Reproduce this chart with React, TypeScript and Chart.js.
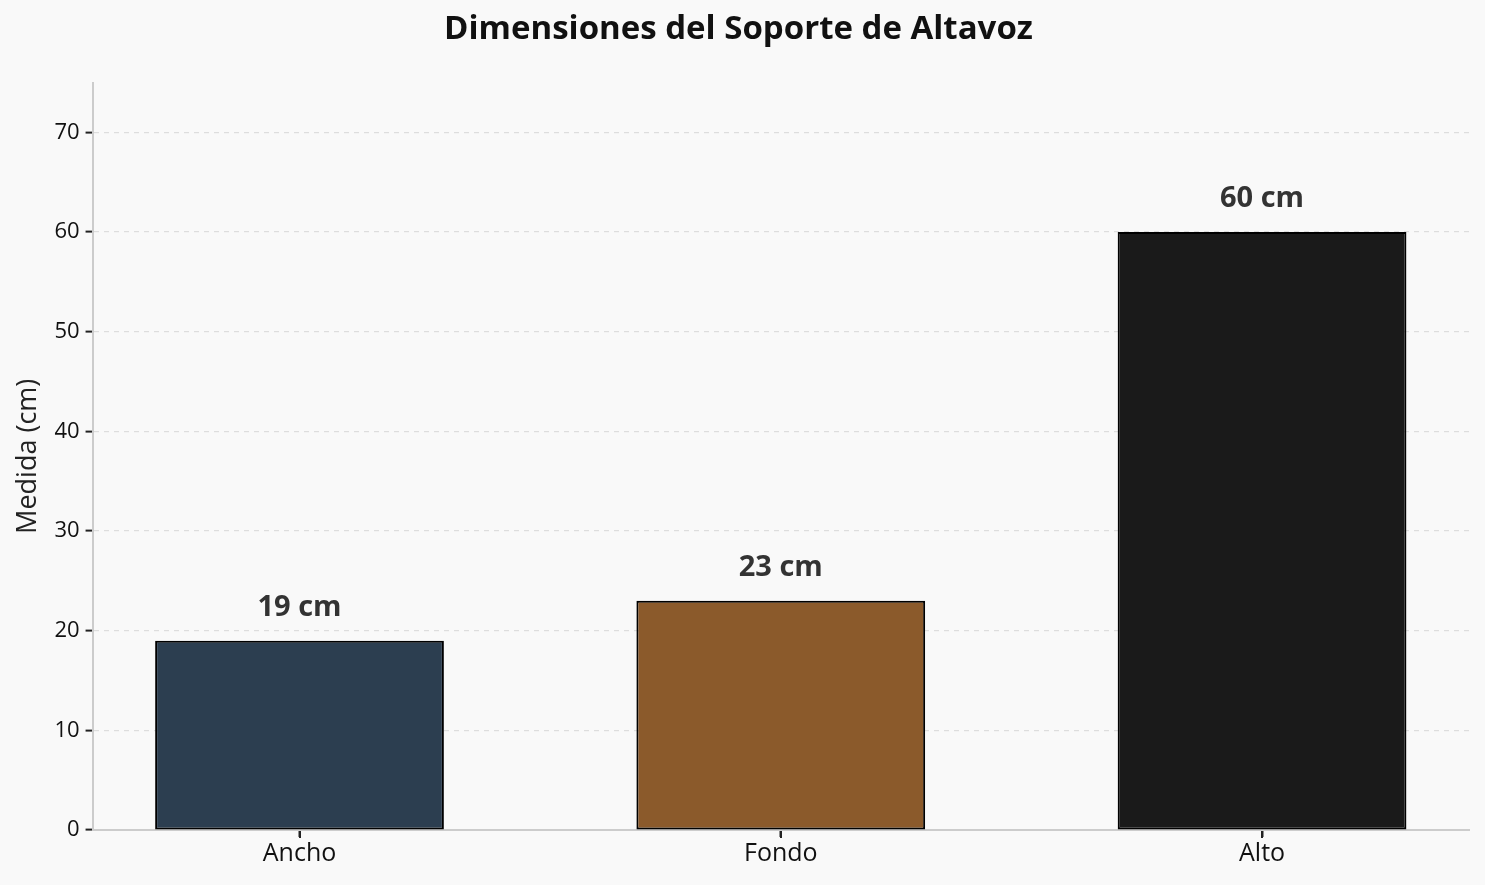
import { useEffect, useRef } from 'react';
import Chart from 'chart.js/auto';

const categories = ['Ancho', 'Fondo', 'Alto'];
const measures = [19, 23, 60];
const barColors = ['#2c3e50', '#8b5a2b', '#1a1a1a'];
const yTicks = [0, 10, 20, 30, 40, 50, 60, 70];

const FONT = '"Open Sans", "Noto Sans", sans-serif';

// draws the "19 cm" labels above each bar
const valueLabels = {
  id: 'valueLabels',
  afterDatasetsDraw(chart: any) {
    const ctx = chart.ctx;
    const meta = chart.getDatasetMeta(0);
    ctx.save();
    ctx.font = `bold 29px ${FONT}`;
    ctx.fillStyle = '#333333';
    ctx.textAlign = 'center';
    ctx.textBaseline = 'middle';
    meta.data.forEach((bar: any, i: number) => {
      ctx.fillText(`${measures[i]} cm`, bar.x, bar.y - 33);
    });
    ctx.restore();
  },
};

// small tick marks under each category on the x axis
const xTickMarks = {
  id: 'xTickMarks',
  afterDraw(chart: any) {
    const ctx = chart.ctx;
    const xs = chart.scales.x;
    const bottom = chart.chartArea.bottom;
    ctx.save();
    ctx.strokeStyle = '#222222';
    ctx.lineWidth = 2;
    categories.forEach((_, i) => {
      const px = Math.round(xs.getPixelForValue(i));
      ctx.beginPath();
      ctx.moveTo(px, bottom + 1);
      ctx.lineTo(px, bottom + 8);
      ctx.stroke();
    });
    ctx.restore();
  },
};

export default function App() {
  const canvasRef = useRef<HTMLCanvasElement>(null);

  useEffect(() => {
    document.body.style.margin = '0';
    document.body.style.background = '#f9f9f9';
    if (!canvasRef.current) return;

    const chart = new Chart(canvasRef.current, {
      type: 'bar',
      data: {
        datasets: [
          {
            data: measures.map((v, i) => ({ x: i, y: v })),
            backgroundColor: barColors,
            borderColor: '#000000',
            borderWidth: 2,
            borderSkipped: false,
            barPercentage: 0.6,
            categoryPercentage: 1,
          },
        ],
      },
      options: {
        animation: false,
        responsive: true,
        maintainAspectRatio: false,
        layout: { padding: { left: 8, right: 16, top: 0, bottom: 14 } },
        plugins: {
          legend: { display: false },
          tooltip: { enabled: false },
          title: {
            display: true,
            text: 'Dimensiones del Soporte de Altavoz',
            color: '#111111',
            font: { family: FONT, size: 33, weight: 'bold' },
            padding: { top: 10, bottom: 33 },
          },
        },
        scales: {
          x: {
            type: 'linear',
            min: -0.43,
            max: 2.43,
            offset: false,
            afterBuildTicks(axis: any) {
              axis.ticks = categories.map((_, i) => ({ value: i }));
            },
            grid: {
              offset: false,
              drawOnChartArea: false,
              drawTicks: true,
              tickLength: 7,
              tickColor: '#222222',
              tickWidth: 2,
            },
            border: { color: '#cccccc', width: 2 },
            ticks: {
              color: '#111111',
              font: { family: FONT, size: 25 },
              padding: 2,
              callback: (v: any) => categories[v] ?? '',
            },
          },
          y: {
            min: 0,
            max: 75,
            afterBuildTicks(axis: any) {
              axis.ticks = yTicks.map((v) => ({ value: v }));
            },
            grid: {
              color: '#dddddd',
              lineWidth: 1.2,
              drawTicks: true,
              tickLength: 7,
              tickColor: '#222222',
              tickWidth: 2,
              tickBorderDash: [],
            },
            border: { color: '#cccccc', width: 2, dash: [5, 5] },
            ticks: {
              color: '#111111',
              font: { family: FONT, size: 22 },
              padding: 6,
            },
            title: {
              display: true,
              text: 'Medida (cm)',
              color: '#222222',
              font: { family: FONT, size: 27 },
              padding: { bottom: 4 },
            },
          },
        },
      },
      plugins: [valueLabels, xTickMarks],
    });

    return () => chart.destroy();
  }, []);

  return (
    <div style={{ width: '100vw', height: '100vh', background: '#f9f9f9' }}>
      <canvas ref={canvasRef} />
    </div>
  );
}
